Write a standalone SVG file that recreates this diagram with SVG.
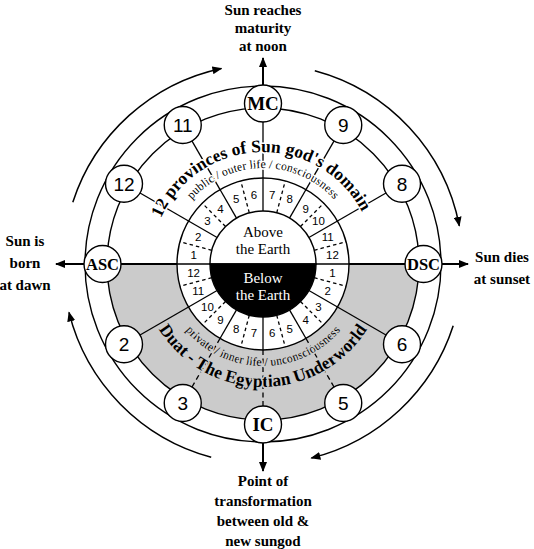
<svg xmlns="http://www.w3.org/2000/svg" width="534" height="549" viewBox="0 0 534 549">
<defs>
<style>
.ln{stroke:#000;stroke-width:1.3;fill:none}
.thk{stroke:#000;stroke-width:2;fill:none}
.dash{stroke-dasharray:5 3.5}
.sdash{stroke-dasharray:3.5 3}
.arc{stroke:#000;stroke-width:1.5;fill:none}
.node circle{fill:#fff;stroke:#000;stroke-width:1.4}
.nl{font-family:"Liberation Serif","Times New Roman",serif;font-weight:bold;text-anchor:middle}
.nn{font-family:"Liberation Sans",Arial,sans-serif;font-size:19px;text-anchor:middle}
.lab{font-family:"Liberation Serif","Times New Roman",serif;font-weight:bold;font-size:15px;text-anchor:middle}
.num{font-family:"Liberation Sans",Arial,sans-serif;font-size:11.5px;text-anchor:middle}
.ctr{font-family:"Liberation Serif","Times New Roman",serif;font-size:15px;text-anchor:middle}
.big{font-family:"Liberation Serif","Times New Roman",serif;font-weight:bold;font-size:17.5px;paint-order:stroke;stroke-width:3;stroke-linejoin:round}
.small{font-family:"Liberation Serif","Times New Roman",serif;font-size:12px;paint-order:stroke;stroke-width:3;stroke-linejoin:round}
</style>
<marker id="ah" viewBox="0 0 10 8" refX="9" refY="4" markerWidth="10" markerHeight="8" markerUnits="userSpaceOnUse" orient="auto"><path d="M0,0 L10,4 L0,8 z" fill="#000"/></marker>
<path id="pUB" d="M151,264 A112,112 0 0 1 375,264"/>
<path id="pUS" d="M167,264 A96,96 0 0 1 359,264"/>
<path id="pLS" d="M161,264 A102,102 0 0 0 365,264"/>
<path id="pLB" d="M140,264 A123,123 0 0 0 386,264"/>
</defs>
<rect width="534" height="549" fill="#fff"/>

<g id="rings">
<circle cx="263" cy="264" r="178" fill="#fff" stroke="#000" stroke-width="1.4"/>
<path d="M107,264 A156,156 0 0 0 419,264 Z" fill="#cbcbcb"/>
<circle cx="263" cy="264" r="156" fill="none" stroke="#000" stroke-width="1.4"/>
</g>

<g id="connectors">
<g class="ln">
<line x1="316" y1="264" x2="415" y2="264" transform="rotate(-30 263 264)"/>
<line x1="316" y1="264" x2="415" y2="264" transform="rotate(-60 263 264)"/>
<line x1="316" y1="264" x2="415" y2="264" transform="rotate(-90 263 264)"/>
<line x1="316" y1="264" x2="415" y2="264" transform="rotate(-120 263 264)"/>
<line x1="316" y1="264" x2="415" y2="264" transform="rotate(-150 263 264)"/>
<line x1="316" y1="264" x2="415" y2="264" transform="rotate(-210 263 264)"/>
<line x1="316" y1="264" x2="415" y2="264" transform="rotate(-330 263 264)"/>
<line x1="316" y1="264" x2="349" y2="264" transform="rotate(-240 263 264)"/>
<line x1="316" y1="264" x2="349" y2="264" transform="rotate(-270 263 264)"/>
<line x1="316" y1="264" x2="349" y2="264" transform="rotate(-300 263 264)"/>
</g>
<g class="ln dash">
<line x1="349" y1="264" x2="415" y2="264" transform="rotate(-240 263 264)"/>
<line x1="349" y1="264" x2="415" y2="264" transform="rotate(-270 263 264)"/>
<line x1="349" y1="264" x2="415" y2="264" transform="rotate(-300 263 264)"/>
</g>
<line class="thk" x1="84" y1="264" x2="442" y2="264"/>
<line class="thk" x1="84" y1="264" x2="56" y2="264" marker-end="url(#ah)"/>
<line class="thk" x1="442" y1="264" x2="468" y2="264" marker-end="url(#ah)"/>
<line class="thk" x1="263" y1="86" x2="263" y2="58" marker-end="url(#ah)"/>
<line class="thk" x1="263" y1="443" x2="263" y2="471" marker-end="url(#ah)"/>
<path class="arc" d="M72.8,202.2 A200,200 0 0 1 221.4,68.4" marker-end="url(#ah)"/>
<path class="arc" d="M314.8,70.8 A200,200 0 0 1 459.3,225.8" marker-end="url(#ah)"/>
<path class="arc" d="M453.2,325.8 A200,200 0 0 1 311.4,458.1" marker-end="url(#ah)"/>
<path class="arc" d="M211.2,457.2 A200,200 0 0 1 69.0,312.4" marker-end="url(#ah)"/>
</g>

<g id="hour-ring">
<circle cx="263" cy="264" r="86" fill="#fff" stroke="#000" stroke-width="1.4"/>
<line class="ln" x1="177" y1="264" x2="349" y2="264" stroke-width="2"/>
<g class="ln">
<line x1="316" y1="264" x2="349" y2="264" transform="rotate(-30 263 264)"/>
<line x1="316" y1="264" x2="349" y2="264" transform="rotate(-60 263 264)"/>
<line x1="316" y1="264" x2="349" y2="264" transform="rotate(-90 263 264)"/>
<line x1="316" y1="264" x2="349" y2="264" transform="rotate(-120 263 264)"/>
<line x1="316" y1="264" x2="349" y2="264" transform="rotate(-150 263 264)"/>
<line x1="316" y1="264" x2="349" y2="264" transform="rotate(-210 263 264)"/>
<line x1="316" y1="264" x2="349" y2="264" transform="rotate(-240 263 264)"/>
<line x1="316" y1="264" x2="349" y2="264" transform="rotate(-270 263 264)"/>
<line x1="316" y1="264" x2="349" y2="264" transform="rotate(-300 263 264)"/>
<line x1="316" y1="264" x2="349" y2="264" transform="rotate(-330 263 264)"/>
</g>
<g class="ln sdash" stroke-width="1.1">
<line x1="316" y1="264" x2="349" y2="264" transform="rotate(-15 263 264)"/>
<line x1="316" y1="264" x2="349" y2="264" transform="rotate(-45 263 264)"/>
<line x1="316" y1="264" x2="349" y2="264" transform="rotate(-75 263 264)"/>
<line x1="316" y1="264" x2="349" y2="264" transform="rotate(-105 263 264)"/>
<line x1="316" y1="264" x2="349" y2="264" transform="rotate(-135 263 264)"/>
<line x1="316" y1="264" x2="349" y2="264" transform="rotate(-165 263 264)"/>
<line x1="316" y1="264" x2="349" y2="264" transform="rotate(-195 263 264)"/>
<line x1="316" y1="264" x2="349" y2="264" transform="rotate(-225 263 264)"/>
<line x1="316" y1="264" x2="349" y2="264" transform="rotate(-255 263 264)"/>
<line x1="316" y1="264" x2="349" y2="264" transform="rotate(-285 263 264)"/>
<line x1="316" y1="264" x2="349" y2="264" transform="rotate(-315 263 264)"/>
<line x1="316" y1="264" x2="349" y2="264" transform="rotate(-345 263 264)"/>
</g>
<g class="num">
<text x="193.6" y="259">1</text>
<text x="198.3" y="241.2">2</text>
<text x="207.5" y="225.4">3</text>
<text x="220.4" y="212.5">4</text>
<text x="236.2" y="203.3">5</text>
<text x="253.9" y="198.6">6</text>
<text x="272.1" y="198.6">7</text>
<text x="289.8" y="203.3">8</text>
<text x="305.6" y="212.5">9</text>
<text x="318.5" y="225.4">10</text>
<text x="327.7" y="241.2">11</text>
<text x="332.4" y="259">12</text>
<text x="332.4" y="277.1">1</text>
<text x="327.7" y="294.8">2</text>
<text x="318.5" y="310.6">3</text>
<text x="305.6" y="323.5">4</text>
<text x="289.8" y="332.7">5</text>
<text x="272.1" y="337.4">6</text>
<text x="253.9" y="337.4">7</text>
<text x="236.2" y="332.7">8</text>
<text x="220.4" y="323.5">9</text>
<text x="207.5" y="310.6">10</text>
<text x="198.3" y="294.8">11</text>
<text x="193.6" y="277.1">12</text>
</g>
</g>

<g id="earth">
<path d="M210,264 A53,53 0 0 1 316,264 Z" fill="#fff" stroke="#000" stroke-width="1.4"/>
<path d="M210,264 A53,53 0 0 0 316,264 Z" fill="#000" stroke="#000" stroke-width="1.4"/>
<text class="ctr" x="263" y="237">Above</text>
<text class="ctr" x="263" y="254">the Earth</text>
<text class="ctr" x="263" y="283" fill="#fff">Below</text>
<text class="ctr" x="263" y="300" fill="#fff">the Earth</text>
</g>

<g id="arc-texts">
<text class="big" stroke="#fff"><textPath href="#pUB" startOffset="49%" text-anchor="middle">12 provinces of Sun god's domain</textPath></text>
<text class="small" stroke="#fff"><textPath href="#pUS" startOffset="50%" text-anchor="middle">public / outer life / consciousness</textPath></text>
<text class="small" stroke="#cbcbcb"><textPath href="#pLS" startOffset="50%" text-anchor="middle">private / inner life / unconsciousness</textPath></text>
<text class="big" stroke="#cbcbcb" font-size="18.5px"><textPath href="#pLB" startOffset="50%" text-anchor="middle">Duat - The Egyptian Underworld</textPath></text>
</g>

<g id="node-MC" class="node"><circle cx="263" cy="103.5" r="18.5"/><text class="nl" x="263" y="110" font-size="19">MC</text></g>
<g id="node-11" class="node"><circle cx="182.75" cy="125" r="18.5"/><text class="nn" x="182.75" y="132">11</text></g>
<g id="node-12" class="node"><circle cx="124" cy="183.75" r="18.5"/><text class="nn" x="124" y="190.75">12</text></g>
<g id="node-ASC" class="node"><circle cx="102.5" cy="264" r="18.5"/><text class="nl" x="102.5" y="270" font-size="16.5">ASC</text></g>
<g id="node-2" class="node"><circle cx="124" cy="344.25" r="18.5"/><text class="nn" x="124" y="351.25">2</text></g>
<g id="node-3" class="node"><circle cx="182.75" cy="403" r="18.5"/><text class="nn" x="182.75" y="410">3</text></g>
<g id="node-IC" class="node"><circle cx="263" cy="424.5" r="18.5"/><text class="nl" x="263" y="431" font-size="19">IC</text></g>
<g id="node-5" class="node"><circle cx="343.25" cy="403" r="18.5"/><text class="nn" x="343.25" y="410">5</text></g>
<g id="node-6" class="node"><circle cx="402" cy="344.25" r="18.5"/><text class="nn" x="402" y="351.25">6</text></g>
<g id="node-DSC" class="node"><circle cx="423.5" cy="264" r="18.5"/><text class="nl" x="423.5" y="270" font-size="16.5">DSC</text></g>
<g id="node-8" class="node"><circle cx="402" cy="183.75" r="18.5"/><text class="nn" x="402" y="190.75">8</text></g>
<g id="node-9" class="node"><circle cx="343.25" cy="125" r="18.5"/><text class="nn" x="343.25" y="132">9</text></g>

<g id="labels">
<text class="lab" x="263" y="15">Sun reaches</text>
<text class="lab" x="263" y="33">maturity</text>
<text class="lab" x="263" y="51">at noon</text>
<text class="lab" x="25" y="246">Sun is</text>
<text class="lab" x="25" y="268">born</text>
<text class="lab" x="25" y="290">at dawn</text>
<text class="lab" x="502" y="262">Sun dies</text>
<text class="lab" x="502" y="284">at sunset</text>
<text class="lab" x="263" y="486">Point of</text>
<text class="lab" x="263" y="506">transformation</text>
<text class="lab" x="263" y="526">between old &amp;</text>
<text class="lab" x="263" y="546">new sungod</text>
</g>
</svg>
